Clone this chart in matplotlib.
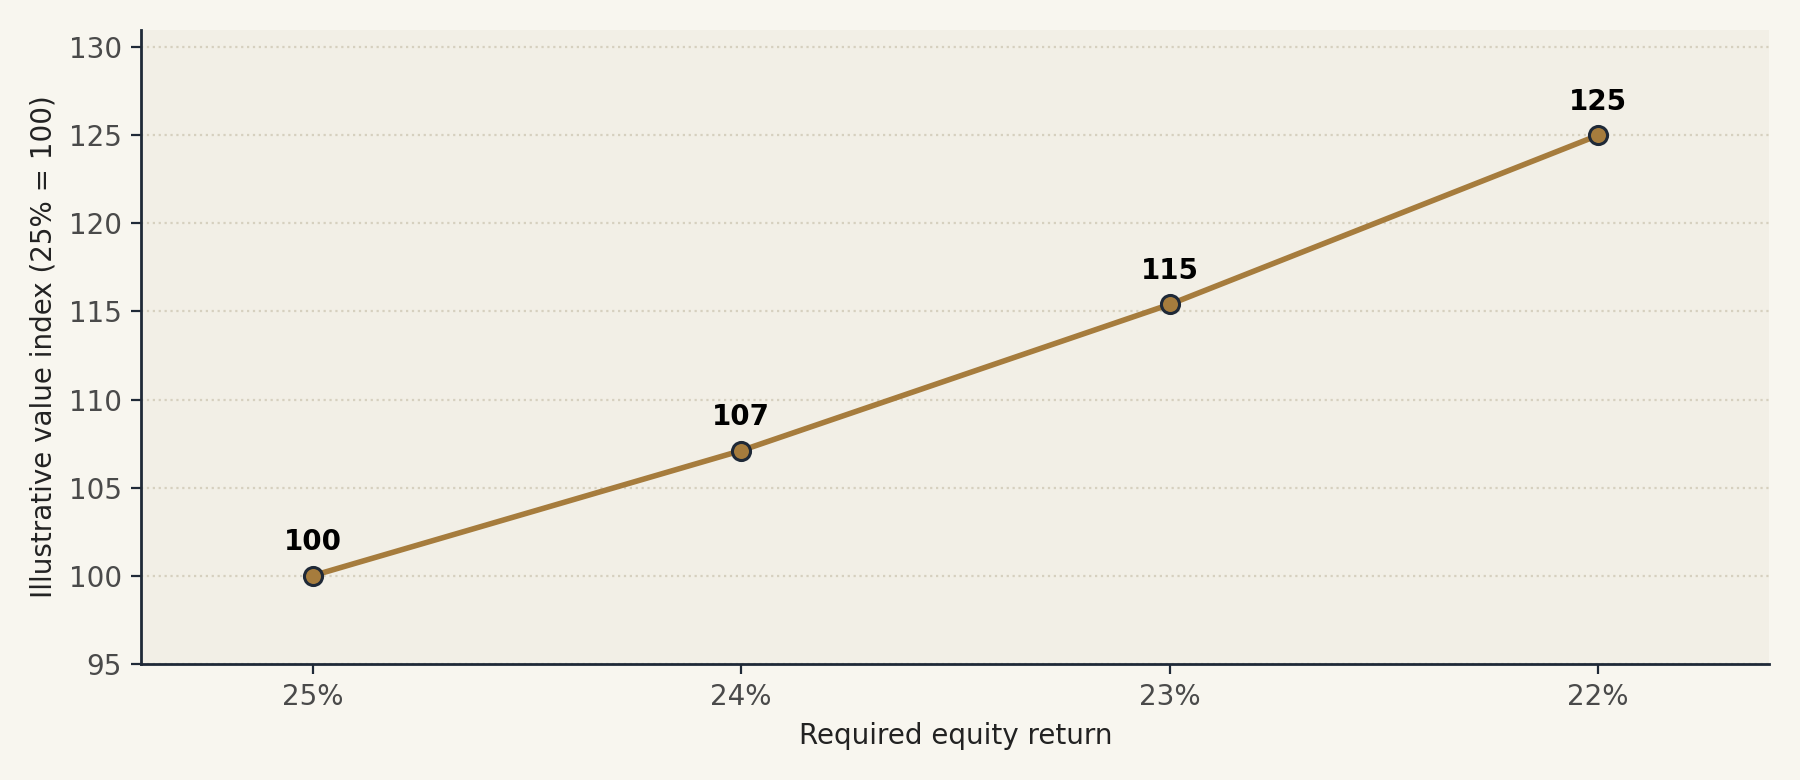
import matplotlib
matplotlib.use('Agg')

import matplotlib.pyplot as plt

returns = ["25%", "24%", "23%", "22%"]
value_index = [100.0, 107.1, 115.4, 125.0]
point_labels = ["100", "107", "115", "125"]

fig_bg = "#f8f6ef"
ax_bg = "#f2efe6"
line_color = "#a67c3d"
edge_color = "#1f2937"

fig, ax = plt.subplots(figsize=(9, 3.9), dpi=200)
fig.patch.set_facecolor(fig_bg)
ax.set_facecolor(ax_bg)
fig.subplots_adjust(left=0.0785, right=0.983, bottom=0.149, top=0.962)

x = list(range(len(returns)))
ax.plot(x, value_index, color=line_color, linewidth=2.0, marker="o",
        markersize=6.5, markerfacecolor=line_color,
        markeredgecolor=edge_color, markeredgewidth=1.1, zorder=3)

for xi, yi, lab in zip(x, value_index, point_labels):
    ax.annotate(lab, (xi, yi), xytext=(0, 7), textcoords="offset points",
                ha="center", va="bottom", fontsize=10, fontweight="bold",
                color="black")

ax.set_xlim(-0.4, len(returns) - 0.6)
ax.set_ylim(95, 131)
ax.set_xticks(x)
ax.set_xticklabels(returns)
ax.set_yticks(range(95, 131, 5))

ax.grid(axis="y", linestyle=":", color="#d6d0bf", linewidth=0.8)
ax.set_axisbelow(True)

for side in ["top", "right"]:
    ax.spines[side].set_visible(False)
for side in ["left", "bottom"]:
    ax.spines[side].set_color(edge_color)
    ax.spines[side].set_linewidth(1.0)

ax.tick_params(axis="both", labelsize=10, colors="#4a4a4a")
ax.tick_params(axis="both", color=edge_color)

ax.set_xlabel("Required equity return", fontsize=10, color="#222222")
ax.set_ylabel("Illustrative value index (25% = 100)", fontsize=10, color="#222222")

fig.savefig("out.png", facecolor=fig_bg)
